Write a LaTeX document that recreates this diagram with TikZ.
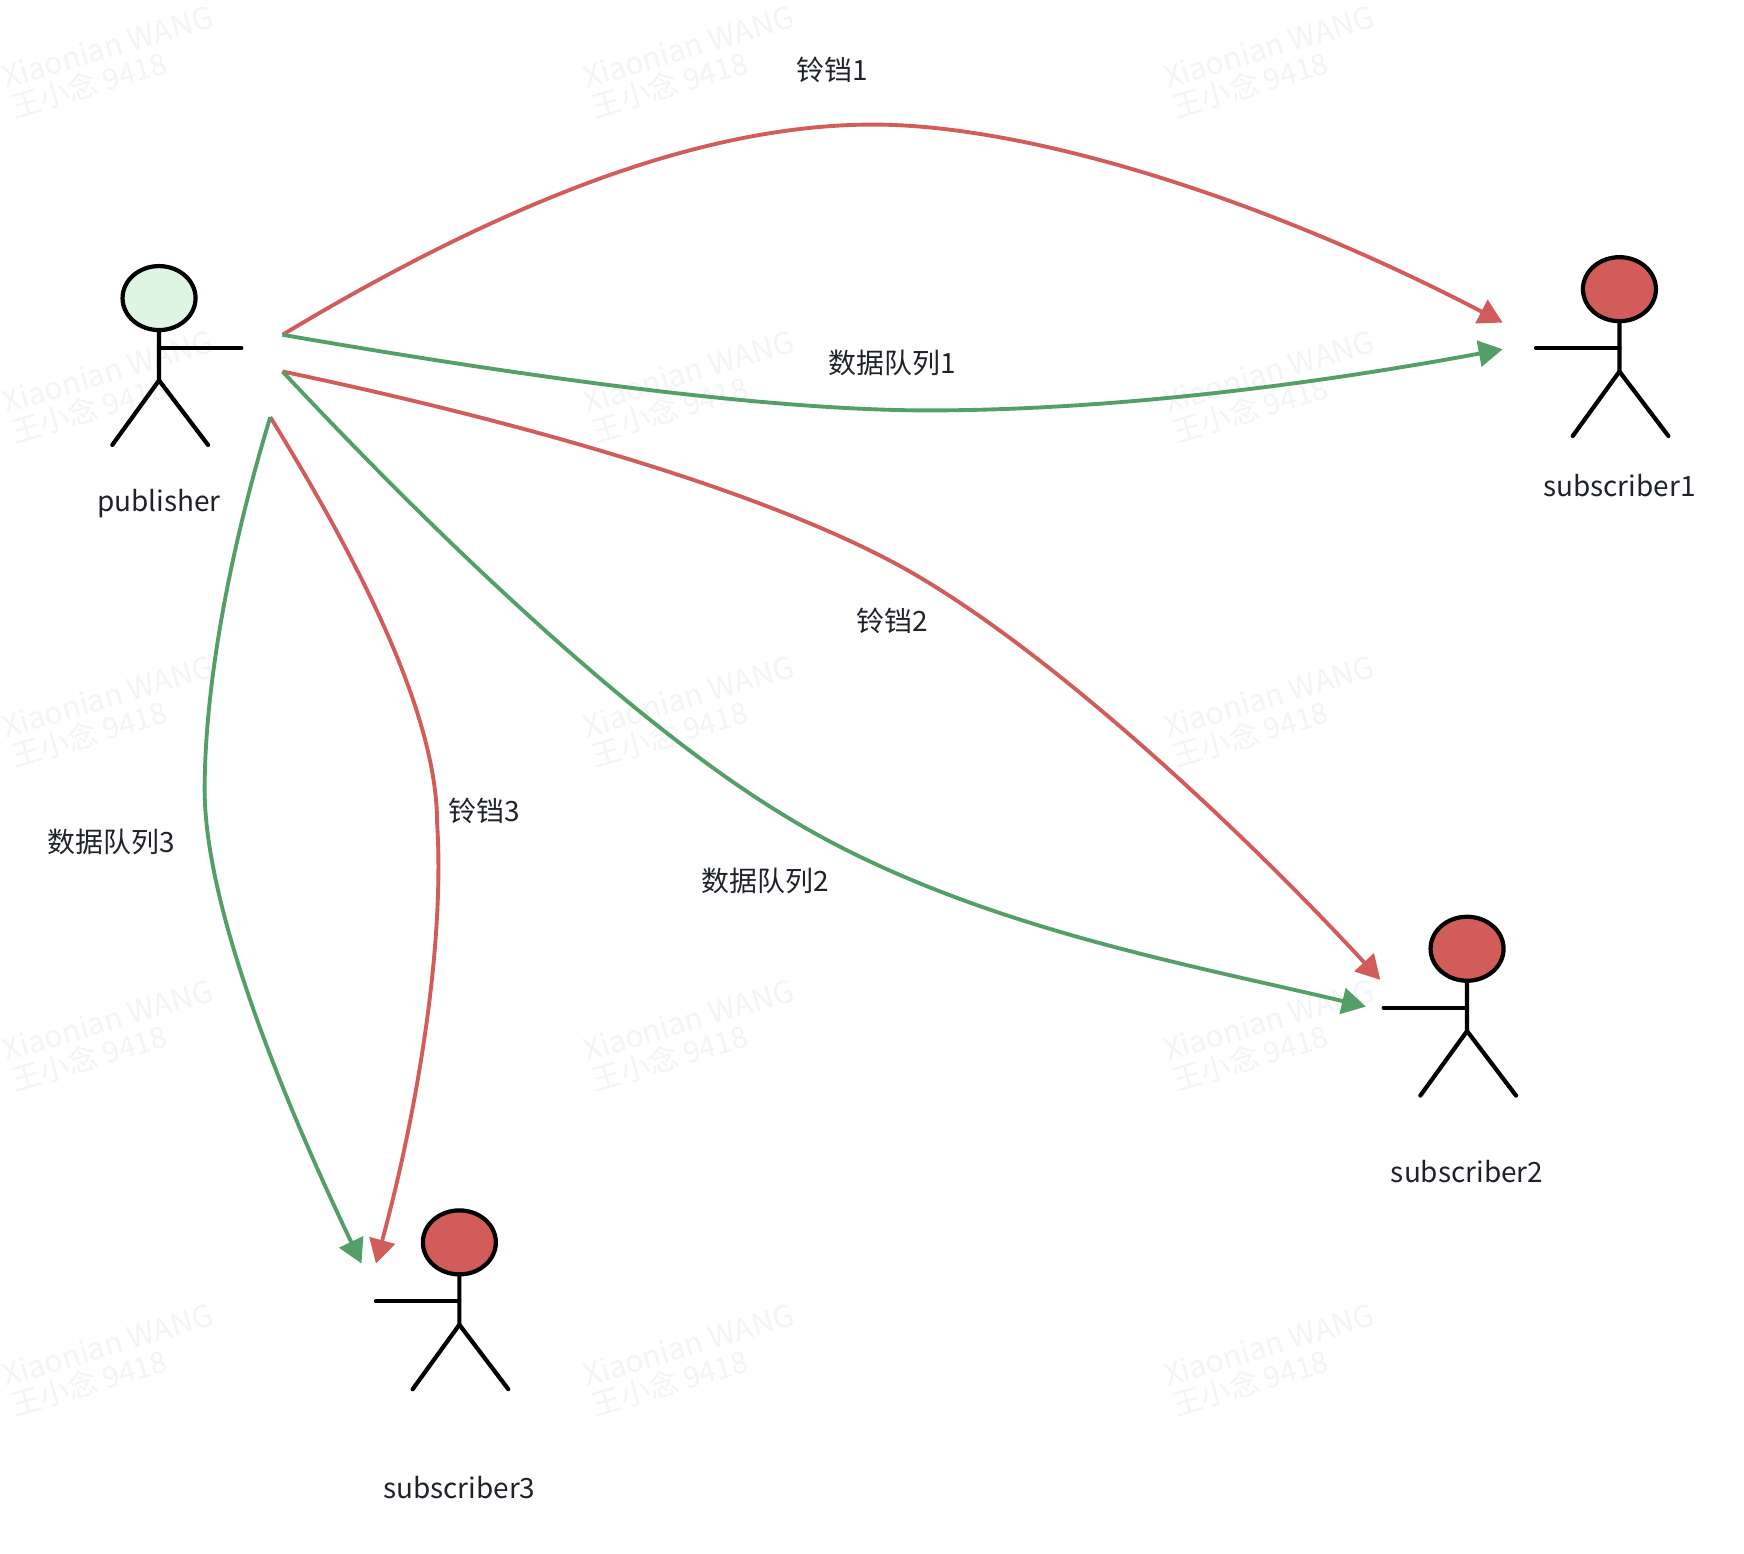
\documentclass[tikz,border=0pt]{standalone}
\usepackage{fontspec}
\setmainfont{Noto Sans CJK SC}
\usepackage{tikz}
\usetikzlibrary{arrows.meta,positioning,calc,shapes.geometric}
\definecolor{bellred}{HTML}{D25C5A}
\definecolor{datagreen}{HTML}{539F67}
\definecolor{pubgreen}{HTML}{DFF5E4}
\definecolor{wmgray}{HTML}{F3F4F6}
\definecolor{labelink}{HTML}{1F2329}
\tikzset{
  head/.style={ellipse, draw=black, line width=1.2pt, inner sep=0pt, minimum width=7.3mm, minimum height=6.4mm},
  limb/.style={draw=black, line width=1.2pt, line cap=round},
  bellarrow/.style={draw=bellred, line width=1.1pt, -{Triangle[length=2.4mm, width=2.6mm]}},
  dataarrow/.style={draw=datagreen, line width=1.1pt, -{Triangle[length=2.4mm, width=2.6mm]}},
  lbl/.style={font=\fontsize{7.95pt}{9pt}\selectfont, text=labelink, inner sep=0pt},
  wmark/.style={font=\fontsize{8.6pt}{10pt}\selectfont, text=wmgray, inner sep=0pt, rotate=16.5},
  wmarkcn/.style={wmark, font=\fontsize{8.4pt}{10pt}\selectfont}
}

\begin{document}
\begin{tikzpicture}[x=0.11122mm, y=-0.11122mm]
    \useasboundingbox[fill=white] (0,0) rectangle (1568,1397);

    % Watermark tiles
    \foreach \col/\wx in {1/97, 2/619, 3/1141} {
      \foreach \row/\wy in {1/42, 2/334, 3/626, 4/917, 5/1209} {
        \node[wmark] (wmA\col\row) at (\wx, \wy) {Xiaonian WANG};
        \node[wmarkcn] (wmB\col\row) at ({\wx-17}, {\wy+34}) {王小念 9418};
      }
    }

    % Publisher
    \node[head, fill=pubgreen] (pub) at (143,268) {};
    \coordinate (pubarm) at (143,313);
    \coordinate (pubhand) at (217,313);
    \coordinate (pubhip) at (143,342);
    \coordinate (publeft) at (101,400);
    \coordinate (pubright) at (187,400);
    \draw[limb] (pub.south) -- (pubhip) -- (publeft);
    \draw[limb] (pubhip) -- (pubright);
    \draw[limb] (pubarm) -- (pubhand);
    \node[lbl] (publbl) at (143,453) {publisher};

    % Subscribers
    \foreach \name/\sx/\sy in {subA/1456/260, subB/1319/853, subC/413/1117} {
      \node[head, fill=bellred] (\name) at (\sx,\sy) {};
      \coordinate (\name arm) at (\sx,\sy+53);
      \coordinate (\name hand) at (\sx-75,\sy+53);
      \coordinate (\name hip) at (\sx,\sy+74);
      \coordinate (\name left) at (\sx-42,\sy+132);
      \coordinate (\name right) at (\sx+44,\sy+132);
      \draw[limb] (\name.south) -- (\name hip) -- (\name left);
      \draw[limb] (\name hip) -- (\name right);
      \draw[limb] (\name arm) -- (\name hand);
    }
    \node[lbl] (subAlbl) at (1456,437) {subscriber1};
    \node[lbl] (subBlbl) at (1319,1053) {subscriber2};
    \node[lbl] (subClbl) at (413,1337) {subscriber3};

    % Connector ends
    \coordinate (fromA) at (254,301);
    \coordinate (fromB) at (254,334);
    \coordinate (fromC) at (243,375);
    \coordinate (bellAend) at (1351,290);
    \coordinate (dataAend) at (1351,314);
    \coordinate (bellBend) at (1241,881);
    \coordinate (dataBend) at (1228,905);
    \coordinate (bellCend) at (338,1136);
    \coordinate (dataCend) at (325,1136);
    \coordinate (bellAmid) at (785,112);
    \coordinate (dataAmid) at (835,369);
    \coordinate (bellBmid) at (820,515);
    \coordinate (dataBmid) at (700,730);
    \coordinate (bellCmid) at (393,740);
    \coordinate (dataCmid) at (184,710);

    % Bell and data queue arrows
    \draw[bellarrow] (fromA) .. controls (480,165) and (650,112) .. (bellAmid)
      .. controls (920,112) and (1130,175) .. (bellAend);
    \draw[dataarrow] (fromA) .. controls (450,335) and (680,369) .. (dataAmid)
      .. controls (960,369) and (1130,355) .. (dataAend);
    \draw[bellarrow] (fromB) .. controls (450,375) and (690,440) .. (bellBmid)
      .. controls (950,590) and (1120,750) .. (bellBend);
    \draw[dataarrow] (fromB) .. controls (400,490) and (570,650) .. (dataBmid)
      .. controls (860,830) and (1060,865) .. (dataBend);
    \draw[bellarrow] (fromC) .. controls (320,500) and (393,640) .. (bellCmid)
      .. controls (400,850) and (375,1000) .. (bellCend);
    \draw[dataarrow] (fromC) .. controls (205,500) and (184,620) .. (dataCmid)
      .. controls (184,820) and (260,1000) .. (dataCend);

    % Arrow labels
    \node[lbl] (bellAlbl) at (748,63) {铃铛1};
    \node[lbl] (dataAlbl) at (802,326) {数据队列1};
    \node[lbl] (bellBlbl) at (802,558) {铃铛2};
    \node[lbl] (dataBlbl) at (688,792) {数据队列2};
    \node[lbl] (bellClbl) at (435,729) {铃铛3};
    \node[lbl] (dataClbl) at (100,757) {数据队列3};
\end{tikzpicture}
\end{document}
